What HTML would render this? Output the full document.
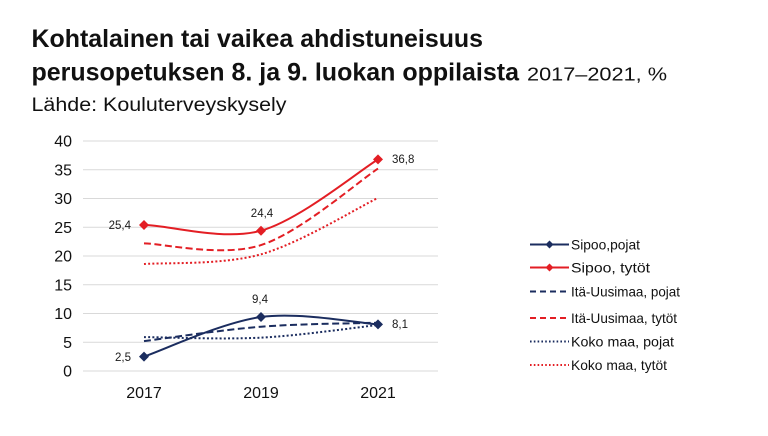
<!DOCTYPE html>
<html>
<head>
<meta charset="utf-8">
<style>
  html,body{margin:0;padding:0;background:#fff;}
  svg{display:block;}
  text{font-family:"Liberation Sans",Arial,sans-serif;}
</style>
</head>
<body>
<svg width="768" height="436" viewBox="0 0 768 436" xmlns="http://www.w3.org/2000/svg">
  <rect width="768" height="436" fill="#fff"/>
  <!-- Titles -->
  <text x="31.5" y="47" font-size="25" font-weight="bold" fill="#111" textLength="451.5" lengthAdjust="spacingAndGlyphs">Kohtalainen tai vaikea ahdistuneisuus</text>
  <text x="31.5" y="80.5" font-size="25" font-weight="bold" fill="#111" textLength="487.5" lengthAdjust="spacingAndGlyphs">perusopetuksen 8. ja 9. luokan oppilaista</text>
  <text x="527" y="80.5" font-size="18" fill="#111" textLength="140" lengthAdjust="spacingAndGlyphs">2017–2021, %</text>
  <text x="31.5" y="111" font-size="19" fill="#111" textLength="255" lengthAdjust="spacingAndGlyphs">Lähde: Kouluterveyskysely</text>

  <!-- Gridlines -->
  <g stroke="#d9d9d9" stroke-width="1">
    <line x1="83" y1="371" x2="438" y2="371"/>
    <line x1="83" y1="342.25" x2="438" y2="342.25"/>
    <line x1="83" y1="313.5" x2="438" y2="313.5"/>
    <line x1="83" y1="284.75" x2="438" y2="284.75"/>
    <line x1="83" y1="256" x2="438" y2="256"/>
    <line x1="83" y1="227.25" x2="438" y2="227.25"/>
    <line x1="83" y1="198.5" x2="438" y2="198.5"/>
    <line x1="83" y1="169.75" x2="438" y2="169.75"/>
    <line x1="83" y1="141" x2="438" y2="141"/>
  </g>

  <!-- Y labels -->
  <g font-size="16" fill="#111" text-anchor="end">
    <text x="72" y="376.5">0</text>
    <text x="72" y="347.75">5</text>
    <text x="72" y="319">10</text>
    <text x="72" y="290.25">15</text>
    <text x="72" y="261.5">20</text>
    <text x="72" y="232.75">25</text>
    <text x="72" y="204">30</text>
    <text x="72" y="175.25">35</text>
    <text x="72" y="146.5">40</text>
  </g>

  <!-- X labels -->
  <g font-size="16" fill="#111" text-anchor="middle">
    <text x="144" y="398">2017</text>
    <text x="261" y="398">2019</text>
    <text x="378" y="398">2021</text>
  </g>

  <!-- Series -->
  <g fill="none" stroke-width="2">
    <!-- Koko maa, tytöt -->
    <path d="M144,264.05 C163.5,262.4 222,265.3 261,254.3 C300,243.27 358.5,207.3 378,197.9" stroke="#e31e24" stroke-dasharray="2 2.2"/>
    <!-- Koko maa, pojat -->
    <path d="M144,337.1 C163.5,337.19 222,339.67 261,337.65 C300,335.63 358.5,327.1 378,325" stroke="#1b2d5f" stroke-dasharray="2 2.2"/>
    <!-- Itä-Uusimaa, tytöt -->
    <path d="M144,243.35 C163.5,243.64 222,257.56 261,245.1 C300,232.64 358.5,181.35 378,168.6" stroke="#e31e24" stroke-dasharray="7 3.5"/>
    <!-- Itä-Uusimaa, pojat -->
    <path d="M144,341.1 C163.5,338.7 222,329.77 261,326.7 C300,323.63 358.5,323.37 378,322.7" stroke="#1b2d5f" stroke-dasharray="7 3.5"/>
    <!-- Sipoo, tytöt -->
    <path d="M144,225 C163.5,224.05 222,241.63 261,230.7 C300,219.77 358.5,171.28 378,159.4" stroke="#e31e24"/>
    <!-- Sipoo, pojat -->
    <path d="M144,356.6 C163.5,350 222,322.37 261,317 C300,311.63 358.5,323.17 378,324.4" stroke="#1b2d5f"/>
  </g>

  <!-- Markers -->
  <g fill="#e31e24">
    <polygon points="144,220 149,225 144,230 139,225"/>
    <polygon points="261,225.7 266,230.7 261,235.7 256,230.7"/>
    <polygon points="378,154.4 383,159.4 378,164.4 373,159.4"/>
  </g>
  <g fill="#1b2d5f">
    <polygon points="144,351.6 149,356.6 144,361.6 139,356.6"/>
    <polygon points="261,312 266,317 261,322 256,317"/>
    <polygon points="378,319.4 383,324.4 378,329.4 373,324.4"/>
  </g>

  <!-- Data labels -->
  <g font-size="11.5" fill="#1a1a1a">
    <text x="131" y="229" text-anchor="end">25,4</text>
    <text x="262" y="217" text-anchor="middle">24,4</text>
    <text x="392" y="163">36,8</text>
    <text x="260" y="303" text-anchor="middle">9,4</text>
    <text x="392" y="328">8,1</text>
    <text x="131" y="361" text-anchor="end">2,5</text>
  </g>

  <!-- Legend -->
  <g stroke-width="2" fill="none">
    <line x1="530" y1="244.5" x2="569" y2="244.5" stroke="#1b2d5f"/>
    <line x1="530" y1="267.5" x2="569" y2="267.5" stroke="#e31e24"/>
    <line x1="530" y1="291.5" x2="569" y2="291.5" stroke="#1b2d5f" stroke-dasharray="6 4"/>
    <line x1="530" y1="318" x2="569" y2="318" stroke="#e31e24" stroke-dasharray="6 4"/>
    <line x1="530" y1="341.5" x2="569" y2="341.5" stroke="#1b2d5f" stroke-dasharray="1.6 2.2"/>
    <line x1="530" y1="365" x2="569" y2="365" stroke="#e31e24" stroke-dasharray="1.6 2.2"/>
  </g>
  <polygon points="549.5,240.5 553.5,244.5 549.5,248.5 545.5,244.5" fill="#1b2d5f"/>
  <polygon points="549.5,263.5 553.5,267.5 549.5,271.5 545.5,267.5" fill="#e31e24"/>
  <g font-size="14" fill="#111">
    <text x="571" y="249.5" textLength="69" lengthAdjust="spacingAndGlyphs">Sipoo,pojat</text>
    <text x="571" y="272.5" textLength="79" lengthAdjust="spacingAndGlyphs">Sipoo, tytöt</text>
    <text x="571" y="296.5" textLength="109" lengthAdjust="spacingAndGlyphs">Itä-Uusimaa, pojat</text>
    <text x="571" y="323" textLength="106" lengthAdjust="spacingAndGlyphs">Itä-Uusimaa, tytöt</text>
    <text x="571" y="346.5" textLength="103" lengthAdjust="spacingAndGlyphs">Koko maa, pojat</text>
    <text x="571" y="370" textLength="96" lengthAdjust="spacingAndGlyphs">Koko maa, tytöt</text>
  </g>
</svg>
</body>
</html>
